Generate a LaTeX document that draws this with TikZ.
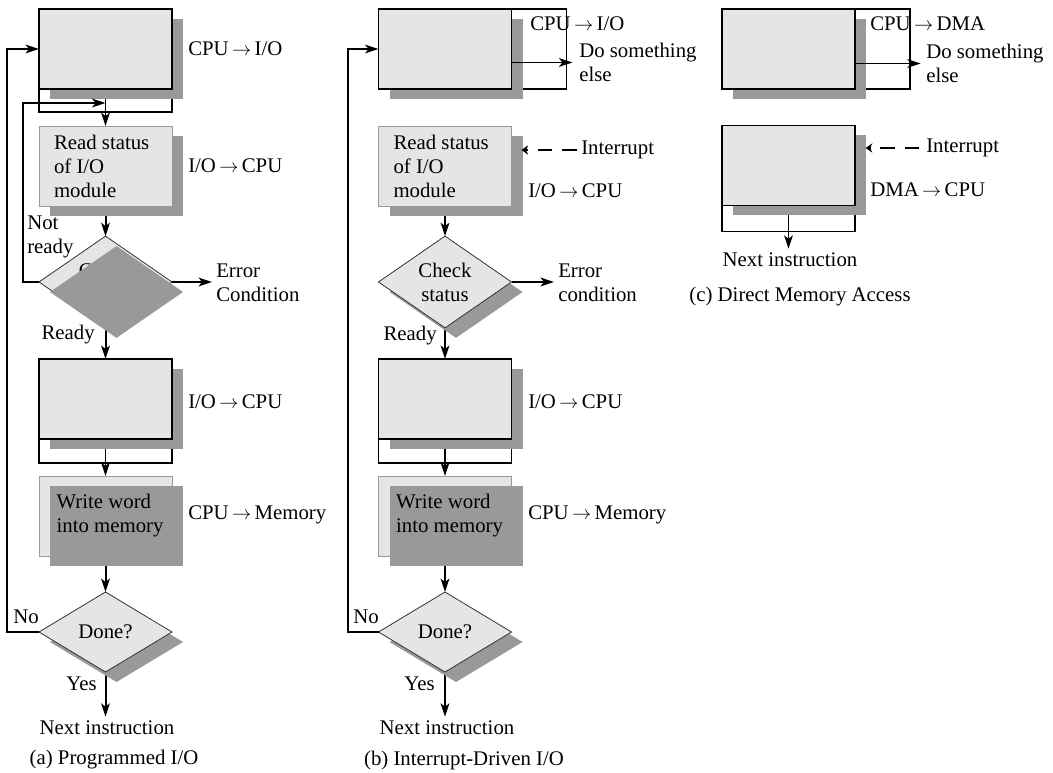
\documentclass[tikz,border=0pt]{standalone}
\usepackage{fontspec}
\setmainfont{Liberation Serif}
\usetikzlibrary{arrows.meta,calc,backgrounds,shapes.geometric,shadows}
\newcommand{\tto}{\kern2.5pt$\rightarrow$\kern2.5pt}

\begin{document}
\begin{tikzpicture}[
  x=0.75pt, y=-0.75pt,
  font=\fontsize{15.6}{18}\selectfont,
  >={Stealth[length=10pt,width=6.5pt,inset=2.5pt]},
  sh/.style={drop shadow={shadow xshift=8.25pt,shadow yshift=-7.5pt,fill=black!40,opacity=1}},
  base/.style={fill=black!10,minimum width=99.75pt,minimum height=60pt,inner sep=0pt,outer sep=0pt},
  blk/.style={base,draw=black,line width=1.3pt},
  stat/.style={base,draw=black!40,line width=0.5pt,text width=77.25pt,align=flush left},
  txt/.style={text width=86pt,align=flush left,inner sep=0pt},
  dec/.style={diamond,draw=black!80,line width=0.6pt,fill=black!10,minimum width=99.75pt,minimum height=60pt,inner sep=0pt,outer sep=0pt,align=center},
  shd/.style={fill=black!40},
  flow/.style={->,line width=1.5pt},
  side/.style={->,line width=1pt},
  frm/.style={line width=0.9pt},
  intr/.style={-{Stealth[length=5pt,width=7pt]},line width=1.5pt,dash pattern=on 11pt off 7.5pt},
  lab/.style={inner sep=0pt,anchor=west,align=left},
  note/.style={inner sep=3pt},
]
\useasboundingbox (0,0) rectangle (1053,773);
% (a) programmed I/O
\node[blk,sh]  (b1a) at (105.5,49)  {};
\node[stat,sh] (rsa) at (105.5,166) {Read status\\of I/O\\module};
\node[dec]     (cka) at (105.5,282) {Check\\status};
\fill[shd] ($(cka.north)+(11,10)$) -- ($(cka.east)+(11,10)$) -- ($(cka.south)+(11,10)$) -- ($(cka.west)+(11,10)$) -- cycle;
\node[blk,sh]  (b3a) at (105.5,399) {};
\node[stat]    (wra) at (105.5,516) {};
\fill[shd] ($(wra.north west)+(11,10)$) rectangle ($(wra.south east)+(11,10)$);
\node[txt]     (wta) at (114,516)   {Write word\\into memory};
\node[dec,sh]  (dna) at (105.5,632) {Done?};
\node[note]    (nxa) at (107,728)   {Next instruction};
\node[note]    (capa) at (114,760)  {(a) Programmed I/O};
\node[lab] (l1a) at (188,49)  {CPU\tto I/O};
\node[lab] (l2a) at (188,166) {I/O\tto CPU};
\node[lab] (nra) at (27,237)  {Not\\ready};
\node[lab] (era) at (216,282.5) {Error\\Condition};
\node[lab,anchor=east] (rya) at (95,335) {Ready};
\node[lab] (l3a) at (188,402) {I/O\tto CPU};
\node[lab] (l4a) at (188,515) {CPU\tto Memory};
\node[lab] (noa) at (13,617)  {No};
\node[lab,anchor=east] (yea) at (97,684) {Yes};
% (b) interrupt-driven I/O
\node[blk,sh]  (b1b) at (445,49)  {};
\node[stat,sh] (rsb) at (445,166) {Read status\\of I/O\\module};
\node[dec,sh]  (ckb) at (445,282) {Check\\status};
\node[blk,sh]  (b3b) at (445,399) {};
\node[stat]    (wrb) at (445,516) {};
\fill[shd] ($(wrb.north west)+(11,10)$) rectangle ($(wrb.south east)+(11,10)$);
\node[txt]     (wtb) at (453.5,516) {Write word\\into memory};
\node[dec,sh]  (dnb) at (445,632) {Done?};
\node[note]    (nxb) at (447,728) {Next instruction};
\node[note]    (capb) at (464,760) {(b) Interrupt-Driven I/O};
\node[lab] (l1b) at (530,24)  {CPU\tto I/O};
\node[lab] (dsb) at (579,62.5) {Do something\\else};
\node[lab] (inb) at (581,150) {Interrupt};
\node[lab] (l2b) at (528,191) {I/O\tto CPU};
\node[lab] (erb) at (558,282.5) {Error\\condition};
\node[lab,anchor=east] (ryb) at (437,336) {Ready};
\node[lab] (l3b) at (528,402) {I/O\tto CPU};
\node[lab] (l4b) at (528,515) {CPU\tto Memory};
\node[lab] (nob) at (353,617) {No};
\node[lab,anchor=east] (yeb) at (435,684) {Yes};
% (c) direct memory access
\node[blk,sh] (b1c) at (788.5,49)    {};
\node[blk,sh] (b2c) at (788.5,165.5) {};
\node[note]   (nxc) at (790,260)     {Next instruction};
\node[note]   (capc) at (800,297)    {(c) Direct Memory Access};
\node[lab] (l1c) at (870,24)   {CPU\tto DMA};
\node[lab] (dsc) at (926,63.5) {Do something\\else};
\node[lab] (inc) at (926,148)  {Interrupt};
\node[lab] (l2c) at (870,190)  {DMA\tto CPU};
% ---- arrows ----
\draw[flow] (cka.west) -- ++(-16,0) |- ($(b1a.south)+(0,14)$);
\draw[flow,shorten >=3pt] (cka.east) -- (cka.east -| era.west);
\draw[flow] (dna.west) -- ++(-32,0) |- (b1a.west);
\draw[flow,shorten >=3pt] (ckb.east) -- (ckb.east -| erb.west);
\draw[flow] (dnb.west) -- ++(-31,0) |- (b1b.west);
\draw[side,shorten >=5pt] (b1b.east |- dsb.west) -- (dsb.west);
\draw[side,shorten >=4pt] (b1c.east |- dsc.west) -- (dsc.west);
\draw[intr,shorten <=3pt,shorten >=7.5pt] (inb.west) -- (rsb.east |- inb.west);
\draw[intr,shorten <=5pt,shorten >=8pt] (inc.west) -- (b2c.east |- inc.west);
% frames and downward links sit under the shadows
\begin{scope}[on background layer]
  \draw[frm] (b1a.south west) -- ++(0,23) -| (b1a.south east);
  \draw[frm] (b3a.south west) -- ++(0,24) -| (b3a.south east);
  \draw[frm] (b3b.south west) -- ++(0,24) -| (b3b.south east);
  \draw[frm] (b1b.north east) -- ++(55,0) |- (b1b.south east);
  \draw[frm] (b1c.north east) -- ++(55,0) |- (b1c.south east);
  \draw[frm] (b2c.south west) -- ++(0,26) -| (b2c.south east);
  \draw[side] (b1a.south) -- (rsa.north);
  \draw[flow] (rsa.south) -- (cka.north);
  \draw[flow] (cka.south) -- (b3a.north);
  \draw[side] (b3a.south) -- (wra.north);
  \draw[flow] (wra.south) -- (dna.north);
  \draw[flow] (dna.south) -- (dna.south |- nxa.north);
  \draw[flow] (rsb.south) -- (ckb.north);
  \draw[flow] (ckb.south) -- (b3b.north);
  \draw[side] (b3b.south) -- (wrb.north);
  \draw[flow] (wrb.south) -- (dnb.north);
  \draw[flow] (dnb.south) -- (dnb.south |- nxb.north);
  \draw[side] (b2c.south) -- (b2c.south |- nxc.north);
\end{scope}
\end{tikzpicture}
\end{document}
